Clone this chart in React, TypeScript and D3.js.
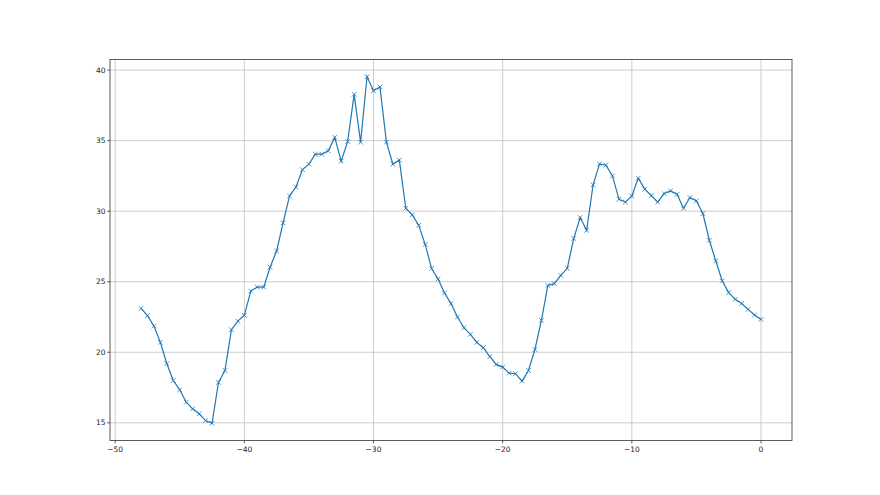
import React from "react";
import * as d3 from "d3";

const xStart = -48;
const xStep = 0.5;
const values: number[] = [
  23.11, 22.6, 21.86, 20.7, 19.19, 18.0, 17.34, 16.46, 15.99, 15.64,
  15.16, 14.97, 17.86, 18.71, 21.6, 22.21, 22.62, 24.34, 24.62, 24.62,
  26.04, 27.18, 29.17, 31.08, 31.72, 32.95, 33.33, 34.04, 34.04, 34.28,
  35.23, 33.55, 34.94, 38.28, 34.89, 39.53, 38.54, 38.8, 34.89, 33.33,
  33.62, 30.21, 29.74, 29.0, 27.65, 25.93, 25.19, 24.2, 23.45, 22.5,
  21.74, 21.27, 20.7, 20.32, 19.7, 19.14, 18.95, 18.52, 18.48, 17.95,
  18.71, 20.2, 22.26, 24.74, 24.86, 25.45, 25.95, 28.06, 29.55, 28.65,
  31.86, 33.35, 33.26, 32.5, 30.85, 30.64, 31.08, 32.34, 31.56, 31.11,
  30.64, 31.25, 31.44, 31.2, 30.21, 30.97, 30.73, 29.83, 27.94, 26.47,
  25.05, 24.23, 23.75, 23.45, 23.04, 22.64, 22.33,
];
const xTicks = [-50, -40, -30, -20, -10, 0];
const yTicks = [15, 20, 25, 30, 35, 40];

const W = 880;
const H = 495;
const left = 110;
const right = 792;
const top = 59.4;
const bottom = 440.55;

export default function App() {
  const pts = values.map((v, i) => ({ x: xStart + i * xStep, y: v }));
  const xMin = d3.min(pts, (d) => d.x)!;
  const xMax = d3.max(pts, (d) => d.x)!;
  const yMin = d3.min(pts, (d) => d.y)!;
  const yMax = d3.max(pts, (d) => d.y)!;
  const xm = (xMax - xMin) * 0.05;
  const ym = (yMax - yMin) * 0.05;
  const x = d3.scaleLinear().domain([xMin - xm, xMax + xm]).range([left, right]);
  const y = d3.scaleLinear().domain([yMin - ym, yMax + ym]).range([bottom, top]);
  const line = d3.line<{ x: number; y: number }>().x((d) => x(d.x)).y((d) => y(d.y));
  const fmt = (t: number) => (t < 0 ? "\u2212" + Math.abs(t) : String(t));
  const grid = "#c0c0c0";
  const color = "#1f77b4";
  const m = 2.3;
  return (
    <svg width={W} height={H} style={{ position: "absolute", left: 0, top: 0 }}>
      <rect x={0} y={0} width={W} height={H} fill="#fff" />
      <g>
        {xTicks.map((t) => (
          <line key={"gx" + t} x1={x(t)} x2={x(t)} y1={top} y2={bottom} stroke={grid} strokeWidth={0.8} />
        ))}
        {yTicks.map((t) => (
          <line key={"gy" + t} x1={left} x2={right} y1={y(t)} y2={y(t)} stroke={grid} strokeWidth={0.8} />
        ))}
      </g>
      <path d={line(pts) || ""} fill="none" stroke={color} strokeWidth={1.2} />
      <g stroke={color} strokeWidth={0.8}>
        {pts.map((d, i) => (
          <path
            key={i}
            d={`M${x(d.x) - m},${y(d.y) - m}L${x(d.x) + m},${y(d.y) + m}M${x(d.x) - m},${y(d.y) + m}L${x(d.x) + m},${y(d.y) - m}`}
          />
        ))}
      </g>
      <rect x={left} y={top} width={right - left} height={bottom - top} fill="none" stroke="#333" strokeWidth={0.8} />
      <g fontFamily="DejaVu Sans" fontSize={7.5} fill="#222">
        {xTicks.map((t) => (
          <g key={"tx" + t}>
            <line x1={x(t)} x2={x(t)} y1={bottom} y2={bottom + 2.8} stroke="#333" strokeWidth={0.8} />
            <text x={x(t)} y={bottom + 11} textAnchor="middle">
              {fmt(t)}
            </text>
          </g>
        ))}
        {yTicks.map((t) => (
          <g key={"ty" + t}>
            <line x1={left - 2.8} x2={left} y1={y(t)} y2={y(t)} stroke="#333" strokeWidth={0.8} />
            <text x={left - 4.5} y={y(t)} dy="0.35em" textAnchor="end">
              {t}
            </text>
          </g>
        ))}
      </g>
    </svg>
  );
}
